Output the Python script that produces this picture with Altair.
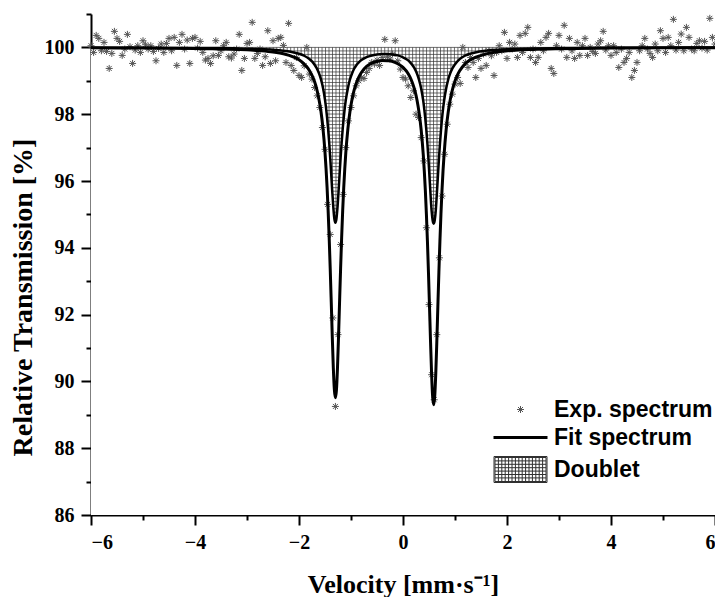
import altair as alt
import pandas as pd
import numpy as np

# ---------------- data ----------------
series = ["Exp. spectrum", "Fit spectrum", "Doublet"]

# experimental spectrum: velocity channels -6 ... 6 mm/s, step 0.05
exp_x = [round(-6 + 0.05 * i, 2) for i in range(241)]
exp_y = [
    100.05, 99.85, 100.36, 100.27, 99.90, 100.15, 99.88, 99.37, 99.82, 100.48, 100.27, 100.18, 99.76, 99.95, 100.39, 100.02, 99.52, 99.92, 100.05, 99.85,
    100.20, 100.08, 99.95, 100.05, 99.88, 99.60, 99.97, 100.10, 99.85, 100.12, 100.27, 99.90, 100.30, 99.46, 100.15, 100.39, 99.95, 100.22, 99.52, 100.27,
    100.30, 99.98, 100.18, 99.85, 99.62, 99.67, 99.52, 99.75, 100.20, 99.76, 99.90, 100.05, 100.15, 99.72, 99.68, 99.80, 99.95, 100.39, 99.31, 99.67,
    100.12, 100.15, 100.75, 99.67, 99.82, 99.95, 99.46, 99.72, 100.50, 99.52, 100.20, 99.60, 100.27, 100.30, 100.06, 99.55, 100.72, 99.46, 99.31, 99.70,
    99.16, 99.10, 99.45, 100.00, 99.20, 99.05, 98.80, 98.55, 98.20, 97.60, 96.95, 95.30, 94.40, 91.90, 89.25, 91.40, 94.10, 95.60, 97.00, 97.80,
    98.20, 98.55, 98.85, 99.00, 99.10, 99.07, 99.25, 99.37, 99.55, 99.50, 99.62, 99.46, 99.70, 100.24, 99.72, 99.65, 99.80, 100.20, 99.60, 99.35,
    99.10, 99.05, 98.85, 98.50, 98.70, 98.00, 97.90, 97.30, 96.60, 94.60, 92.30, 90.20, 89.45, 91.40, 93.70, 95.55, 96.80, 97.70, 98.30, 98.60,
    98.90, 99.10, 98.92, 100.00, 99.55, 99.40, 99.70, 99.55, 99.10, 99.67, 99.37, 99.80, 99.46, 99.90, 99.75, 99.16, 99.85, 100.05, 99.90, 100.45,
    99.67, 100.15, 99.95, 100.10, 99.70, 100.36, 99.85, 100.42, 100.60, 99.70, 99.95, 99.55, 99.70, 100.15, 99.90, 100.30, 100.42, 99.37, 99.22, 100.05,
    100.36, 99.95, 100.66, 99.70, 100.27, 99.90, 99.67, 100.15, 99.76, 100.05, 100.27, 99.76, 100.00, 99.88, 99.82, 100.10, 100.20, 100.48, 99.92, 100.05,
    99.76, 100.05, 99.85, 99.40, 99.95, 99.55, 99.67, 99.85, 99.10, 99.31, 99.55, 99.90, 100.05, 100.27, 99.95, 99.82, 99.70, 100.10, 99.90, 100.50,
    100.27, 99.85, 100.30, 100.05, 100.84, 99.92, 100.15, 100.40, 99.90, 100.60, 100.30, 99.95, 99.90, 100.12, 100.20, 99.98, 100.18, 99.92, 100.87, 100.30, 100.10,
]

# fitted spectrum and doublet sub-spectrum
curve_x = [-6, -5, -4, -3.5, -3, -2.75, -2.5, -2.3, -2.1, -2.0, -1.9, -1.8, -1.75, -1.7, -1.66, -1.62, -1.58, -1.54,
           -1.5, -1.48, -1.46, -1.44, -1.42, -1.4, -1.38, -1.36, -1.34, -1.32, -1.3, -1.28, -1.26, -1.24, -1.22, -1.2,
           -1.18, -1.16, -1.14, -1.12, -1.1, -1.06, -1.02, -0.98, -0.94, -0.9, -0.85, -0.8, -0.7, -0.6, -0.5, -0.4,
           -0.3, -0.2, -0.1, 0.0, 0.1, 0.15, 0.19, 0.23, 0.27, 0.31, 0.35, 0.39, 0.41, 0.43, 0.45, 0.47, 0.49, 0.51,
           0.53, 0.55, 0.57, 0.59, 0.61, 0.63, 0.65, 0.67, 0.69, 0.71, 0.73, 0.75, 0.77, 0.79, 0.83, 0.87, 0.91, 0.95,
           0.99, 1.04, 1.09, 1.19, 1.29, 1.39, 1.59, 1.79, 2.09, 2.5, 3.0, 4.0, 5.0, 6.0]
fit_y = [99.99, 99.98, 99.97, 99.95, 99.93, 99.90, 99.86, 99.81, 99.71, 99.63, 99.50, 99.31, 99.16, 98.97, 98.76, 98.48, 98.11, 97.59,
         96.86, 96.38, 95.81, 95.12, 94.32, 93.39, 92.38, 91.34, 90.41, 89.75, 89.51, 89.74, 90.40, 91.33, 92.37, 93.38,
         94.30, 95.11, 95.79, 96.36, 96.84, 97.56, 98.08, 98.45, 98.72, 98.92, 99.11, 99.25, 99.43, 99.53, 99.58, 99.61,
         99.60, 99.58, 99.51, 99.40, 99.21, 99.06, 98.90, 98.70, 98.42, 98.04, 97.52, 96.78, 96.29, 95.71, 95.01, 94.19, 93.25, 92.22,
         91.17, 90.22, 89.54, 89.30, 89.55, 90.22, 91.17, 92.23, 93.26, 94.20, 95.02, 95.72, 96.31, 96.79, 97.54, 98.07, 98.45, 98.73,
         98.95, 99.15, 99.30, 99.50, 99.62, 99.70, 99.80, 99.86, 99.91, 99.94, 99.96, 99.98, 99.99, 99.99]
dbl_y = [99.99, 99.99, 99.98, 99.98, 99.96, 99.95, 99.93, 99.90, 99.85, 99.81, 99.75, 99.65, 99.58, 99.48, 99.38, 99.24, 99.06, 98.80,
         98.43, 98.19, 97.90, 97.56, 97.16, 96.70, 96.19, 95.67, 95.21, 94.87, 94.75, 94.87, 95.20, 95.67, 96.18, 96.69,
         97.15, 97.55, 97.89, 98.18, 98.42, 98.78, 99.04, 99.22, 99.36, 99.46, 99.55, 99.62, 99.71, 99.76, 99.79, 99.80,
         99.80, 99.79, 99.76, 99.70, 99.61, 99.53, 99.45, 99.35, 99.21, 99.02, 98.76, 98.39, 98.14, 97.85, 97.51, 97.10, 96.63, 96.11,
         95.58, 95.11, 94.82, 94.72, 94.82, 95.11, 95.59, 96.11, 96.63, 97.10, 97.51, 97.86, 98.15, 98.40, 98.77, 99.04, 99.23, 99.37,
         99.47, 99.57, 99.65, 99.75, 99.81, 99.85, 99.90, 99.93, 99.95, 99.97, 99.98, 99.99, 99.99, 100.00]

x_ticks = list(range(-6, 7))
y_ticks = list(range(86, 102))

# ---------------- tables ----------------
df_exp = pd.DataFrame({"x": exp_x, "y": exp_y, "s": series[0]})
df_fit = pd.DataFrame({"x": curve_x, "y": fit_y})
df_dbl = pd.DataFrame({"x": curve_x, "y": dbl_y, "floor": 86.0})

# cross-hatch texture of the doublet area (fine grid, masked below the doublet curve)
gv = np.arange(-3.5, 3.0, 0.067)
df_gv = pd.DataFrame({"x": gv, "y": 94.5, "y2": 100.0})
gh = np.arange(100.0, 94.5, -0.105)
df_gh = pd.DataFrame({"y": gh, "x": -3.5, "x2": 3.0})

# legend / marker symbols
star = "M-0.35,0H0.35M0,-0.35V0.35M-0.25,-0.25L0.25,0.25M-0.25,0.25L0.25,-0.25"
line_sym = "M-2.7,-0.1H2.7M-2.7,0H2.7M-2.7,0.1H2.7"
gp = ["M-2.65,-1.3H2.65V1.3H-2.65Z", "M-2.55,-1.2H2.55V1.2H-2.55Z"]
for k in range(1, 15):
    gp.append(f"M{-2.55 + 0.34 * k:.2f},-1.2V1.2")
for k in range(1, 7):
    gp.append(f"M-2.55,{-1.2 + 0.34 * k:.2f}H2.55")
grid_sym = "".join(gp)

# ---------------- scales / axes ----------------
xs = alt.Scale(domain=[-6, 6], nice=False, zero=False)
ys = alt.Scale(domain=[86, 101], nice=False, zero=False)

tick_size = {"condition": {"test": "datum.value % 2 != 0", "value": 5}, "value": 10}
lab_expr = "datum.value % 2 != 0 ? '' : replace(datum.label, '-', '\u2212')"
common_axis = dict(
    grid=False, domainColor="black", domainWidth=2, tickColor="black", tickWidth=2,
    tickSize=tick_size, labelExpr=lab_expr, labelFont="Liberation Serif", labelFontWeight="bold",
    labelFontSize=20, labelColor="black", titleFont="Liberation Serif", titleFontWeight="bold",
    titleColor="black", labelPadding=7,
)
xaxis = alt.Axis(values=x_ticks, title="Velocity [mm·s⁻¹]", titleFontSize=26,
                 titleY=77, titleBaseline="alphabetic", **common_axis)
yaxis = alt.Axis(values=y_ticks, title="Relative Transmission [%]", titleFontSize=28,
                 titleX=-54, titleY=283, **common_axis)

X = alt.X("x:Q", scale=xs, axis=xaxis)
Y = alt.Y("y:Q", scale=ys, axis=yaxis)

leg = alt.Legend(
    title=None, orient="none", legendX=418, legendY=384, padding=0,
    labelFont="Liberation Sans", labelFontWeight="bold", labelFontSize=23, labelColor="black",
    symbolSize=400, symbolStrokeWidth=1, labelOffset=22, rowPadding=4, labelLimit=300,
)

# ---------------- layers ----------------
grid_v = alt.Chart(df_gv).mark_rule(color="#303030", strokeWidth=0.7).encode(x=X, y=Y, y2="y2:Q")
grid_h = alt.Chart(df_gh).mark_rule(color="#303030", strokeWidth=0.7).encode(y=Y, x=X, x2="x2:Q")
mask = alt.Chart(df_dbl).mark_area(color="white", opacity=1, interpolate="monotone").encode(x=X, y=Y, y2="floor:Q")
points = alt.Chart(df_exp).mark_point(filled=False, size=400, strokeWidth=1, opacity=1).encode(
    x=X, y=Y,
    shape=alt.Shape("s:N", scale=alt.Scale(domain=series, range=[star, line_sym, grid_sym]), legend=leg),
    color=alt.Color("s:N", scale=alt.Scale(domain=series, range=["#555555", "#000000", "#303030"]), legend=leg),
)
dbl_line = alt.Chart(df_dbl).mark_line(color="black", strokeWidth=2.5, interpolate="monotone").encode(x=X, y=Y)
fit_line = alt.Chart(df_fit).mark_line(color="black", strokeWidth=3, interpolate="monotone").encode(x=X, y=Y)

chart = alt.layer(grid_v, grid_h, mask, points, dbl_line, fit_line).properties(
    width=624, height=501,
    autosize=alt.AutoSizeParams(type="none"),
    padding={"left": 83, "top": 6, "right": 0, "bottom": 82},
    background="white",
).configure_view(strokeWidth=0)

chart.save("out.html", embed_options={"renderer": "svg", "actions": False})
